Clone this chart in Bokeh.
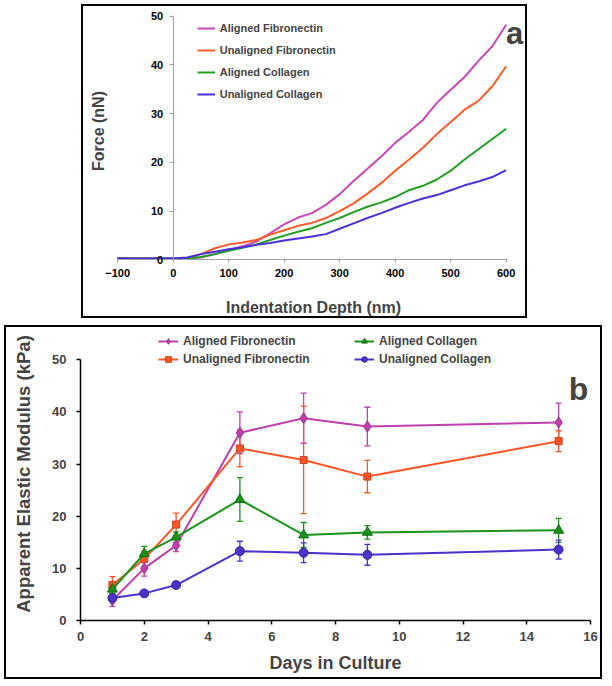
import numpy as np
from bokeh.plotting import figure
from bokeh.models import (Legend, LegendItem, Label, Whisker, TeeHead,
                          ColumnDataSource, FixedTicker, Spacer)
from bokeh.layouts import column, row
from bokeh.embed import file_html
from bokeh.resources import INLINE

FONT = "Liberation Sans"

# ---------------- Panel a data (force curves) ----------------
depth_nm = [-100, -75, -50, -25, 0, 25, 50, 75, 100, 125, 150, 175, 200, 225, 250,
            275, 300, 325, 350, 375, 400, 425, 450, 475, 500, 525, 550, 575, 600]
force_aligned_fn = [0.35, 0.3, 0.3, 0.3, 0.3, 0.3, 0.5, 1.2, 2.0, 2.8, 3.8, 5.5, 7.3, 8.7,
                    9.6, 11.3, 13.5, 16.2, 18.7, 21.2, 24.0, 26.3, 28.7, 32.2, 34.9, 37.5,
                    40.8, 43.8, 48.2]
force_unaligned_fn = [0.35, 0.3, 0.3, 0.3, 0.3, 0.3, 1.2, 2.4, 3.2, 3.6, 4.1, 5.2, 6.1, 7.0,
                      7.6, 8.6, 10.0, 11.6, 13.6, 15.8, 18.3, 20.6, 23.0, 25.8, 28.3, 30.8,
                      32.6, 35.6, 39.7]
force_aligned_col = [0.35, 0.3, 0.3, 0.3, 0.3, 0.3, 0.6, 1.2, 1.9, 2.5, 3.2, 4.1, 5.0, 5.8,
                     6.5, 7.6, 8.6, 9.8, 10.9, 11.8, 12.9, 14.3, 15.2, 16.5, 18.3, 20.6,
                     22.7, 24.8, 26.9]
force_unaligned_col = [0.35, 0.3, 0.3, 0.3, 0.3, 0.5, 1.2, 1.7, 2.2, 2.6, 3.1, 3.5, 4.0, 4.4,
                       4.8, 5.3, 6.4, 7.5, 8.6, 9.6, 10.7, 11.7, 12.6, 13.3, 14.3, 15.3,
                       16.1, 17.0, 18.4]
a_xticks = [-100, 0, 100, 200, 300, 400, 500, 600]
a_yticks = [0, 10, 20, 30, 40, 50]

# ---------------- Panel b data (modulus vs days) ----------------
days = [1, 2, 3, 5, 7, 9, 15]
mod_aligned_fn = [3.9, 10.0, 14.4, 36.0, 38.8, 37.2, 38.0]
err_aligned_fn = [1.2, 1.5, 1.2, 4.0, 4.8, 3.7, 3.7]
mod_unaligned_fn = [6.8, 11.8, 18.4, 33.0, 30.8, 27.6, 34.4]
err_unaligned_fn = [1.6, 1.5, 2.2, 3.5, 10.3, 3.1, 2.0]
mod_aligned_col = [6.0, 12.8, 16.0, 23.2, 16.4, 16.9, 17.3]
err_aligned_col = [0.8, 1.4, 1.0, 4.2, 2.4, 1.3, 2.3]
mod_unaligned_col = [4.3, 5.2, 6.8, 13.3, 13.0, 12.6, 13.6]
err_unaligned_col = [0.6, 0.3, 0.6, 1.9, 1.9, 2.0, 1.8]
b_xticks = [0, 2, 4, 6, 8, 10, 12, 14, 16]
b_yticks = [0, 10, 20, 30, 40, 50]

names = ["Aligned Fibronectin", "Unaligned Fibronectin", "Aligned Collagen", "Unaligned Collagen"]
colors_a = ["#C848B8", "#FF5A2A", "#1FA01F", "#4A30DC"]
colors_b = ["#BE3FAE", "#FF5526", "#199319", "#4B33C8"]
edges_b = ["#9A2E8C", "#C8401A", "#0F6E0F", "#3522A0"]
markers_b = ["diamond", "square", "triangle", "circle"]
sizes_b = [11, 7, 10, 9]

# ================= Panel a =================
# frame spans the whole canvas; both axes are pinned at 0 and limited by bounds
pa = figure(width=446, height=314, x_range=(-161.6, 642.0), y_range=(-12.4, 51.95),
            output_backend="svg", toolbar_location=None,
            min_border_left=0, min_border_right=0, min_border_top=0, min_border_bottom=0)
pa.outline_line_color = None
pa.grid.visible = False
pa.styles = {"border": "2px solid black"}

rends_a = []
for ys, c in zip([force_aligned_fn, force_unaligned_fn, force_aligned_col, force_unaligned_col], colors_a):
    rends_a.append(pa.line(depth_nm, ys, line_color=c, line_width=2))

for ax in (pa.xaxis, pa.yaxis):
    ax.axis_line_color = "#A0A0A0"
    ax.major_tick_line_color = "#A0A0A0"
    ax.minor_tick_line_color = None
    ax.major_tick_in = 0
    ax.major_label_text_font = FONT
    ax.major_label_text_font_style = "bold"
    ax.major_label_text_font_size = "11px"
    ax.major_label_text_color = "black"
    ax.fixed_location = 0
pa.xaxis.ticker = FixedTicker(ticks=a_xticks)
pa.xaxis.bounds = (-100, 600)
pa.xaxis.major_tick_out = 3
pa.xaxis.major_label_standoff = 6
pa.yaxis.ticker = FixedTicker(ticks=a_yticks)
pa.yaxis.bounds = (0, 50)
pa.yaxis.major_tick_out = 4
pa.yaxis.major_label_standoff = 6

pa.add_layout(Label(x=230, y=13, x_units="screen", y_units="screen",
                    text="Indentation Depth (nm)", text_align="center", text_baseline="middle",
                    text_font=FONT, text_font_style="bold", text_font_size="16px"))
pa.add_layout(Label(x=15.3, y=189.5, x_units="screen", y_units="screen", text="Force (nN)",
                    angle=np.pi / 2, text_align="center", text_baseline="middle",
                    text_font=FONT, text_font_style="bold", text_font_size="16px"))
pa.add_layout(Label(x=431, y=286.7, x_units="screen", y_units="screen", text="a",
                    text_align="center", text_baseline="alphabetic",
                    text_font=FONT, text_font_style="bold", text_font_size="31px"))

leg_a = Legend(items=[LegendItem(label=n, renderers=[r]) for n, r in zip(names, rends_a)],
               location=(113.7, 218.7), glyph_width=18, glyph_height=14, label_height=14,
               label_standoff=5, spacing=8, padding=0, margin=0,
               border_line_color=None, background_fill_alpha=0,
               label_text_font=FONT, label_text_font_style="bold", label_text_font_size="11px")
pa.add_layout(leg_a)

# ================= Panel b =================
pb = figure(width=598, height=354, x_range=(0, 16), y_range=(0, 56.2),
            output_backend="svg", toolbar_location=None,
            min_border_left=74, min_border_right=14, min_border_top=0, min_border_bottom=61)
pb.outline_line_color = None
pb.grid.visible = False
pb.styles = {"border": "2px solid black"}

items_b = []
series_b = [(mod_aligned_fn, err_aligned_fn), (mod_unaligned_fn, err_unaligned_fn),
            (mod_aligned_col, err_aligned_col), (mod_unaligned_col, err_unaligned_col)]
for (ys, es), c, ec, mk, sz, n in zip(series_b, colors_b, edges_b, markers_b, sizes_b, names):
    ys_arr = np.array(ys)
    es_arr = np.array(es)
    src = ColumnDataSource(dict(x=days, y=ys, upper=ys_arr + es_arr, lower=ys_arr - es_arr))
    w = Whisker(source=src, base="x", upper="upper", lower="lower", dimension="height",
                line_color=c, line_width=1.3,
                upper_head=TeeHead(size=6, line_color=c, line_width=1.3),
                lower_head=TeeHead(size=6, line_color=c, line_width=1.3))
    pb.add_layout(w)
    rl = pb.line("x", "y", source=src, line_color=c, line_width=2)
    rs = pb.scatter("x", "y", source=src, marker=mk, size=sz, fill_color=c, line_color=ec,
                    line_width=1)
    items_b.append(LegendItem(label=n, renderers=[rl, rs]))

for ax in (pb.xaxis, pb.yaxis):
    ax.axis_line_color = "black"
    ax.axis_line_width = 1.5
    ax.major_tick_line_color = "black"
    ax.major_tick_line_width = 1.5
    ax.minor_tick_line_color = None
    ax.major_tick_in = 0
    ax.major_tick_out = 4
    ax.major_label_text_font = FONT
    ax.major_label_text_font_style = "bold"
    ax.major_label_text_font_size = "13px"
    ax.axis_label_text_font = FONT
    ax.axis_label_text_font_style = "bold"
pb.xaxis.ticker = FixedTicker(ticks=b_xticks)
pb.yaxis.ticker = FixedTicker(ticks=b_yticks)
pb.yaxis.bounds = (0, 50)
pb.xaxis.major_label_standoff = 7
pb.yaxis.major_label_standoff = 10
pb.xaxis.axis_label = "Days in Culture"
pb.xaxis.axis_label_text_font_size = "18px"
pb.xaxis.axis_label_standoff = 9
pb.yaxis.axis_label = "Apparent Elastic Modulus (kPa)"
pb.yaxis.axis_label_text_font_size = "18.5px"
pb.yaxis.axis_label_standoff = 15

pb.add_layout(Label(x=498, y=232, x_units="screen", y_units="screen", text="b",
                    text_align="center", text_baseline="alphabetic",
                    text_font=FONT, text_font_style="bold", text_font_size="32px"))

for idx, xloc in ((0, 78), (2, 274)):
    leg = Legend(items=items_b[idx:idx + 2], location=(xloc, 254), glyph_width=20,
                 glyph_height=14, label_height=14, label_standoff=5, spacing=4, padding=0,
                 margin=0, border_line_color=None, background_fill_alpha=0,
                 label_text_font=FONT, label_text_font_style="bold",
                 label_text_font_size="12px")
    pb.add_layout(leg)

layout = column(
    Spacer(width=10, height=4),
    row(Spacer(width=81, height=318), pa),
    Spacer(width=10, height=3),
    row(Spacer(width=4, height=358), pb),
)

open("out.html", "w").write(file_html(layout, INLINE))
